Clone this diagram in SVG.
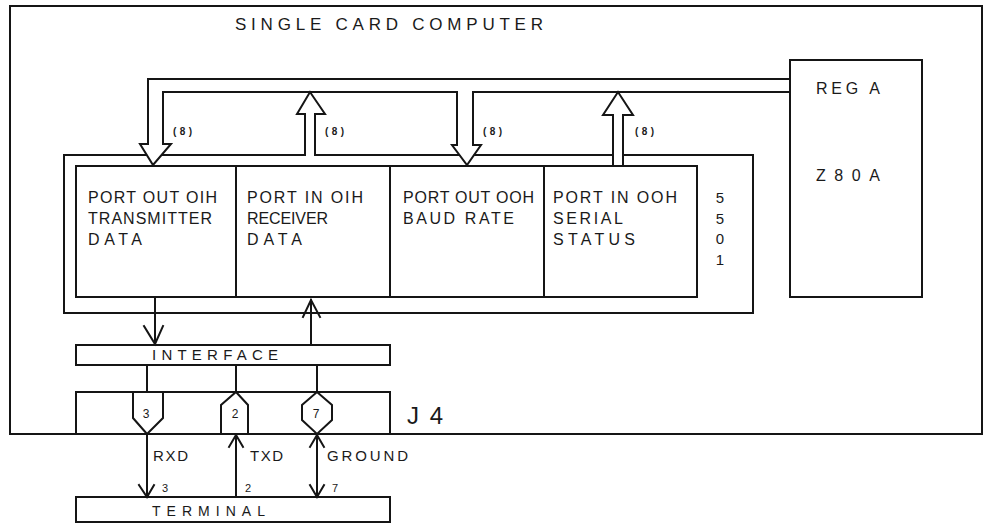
<svg xmlns="http://www.w3.org/2000/svg" width="988" height="523" viewBox="0 0 988 523">
<style>
  .ln { fill: none; stroke: #151515; stroke-width: 2; stroke-linejoin: miter; stroke-linecap: square; }
  .bx { fill: #ffffff; stroke: #151515; stroke-width: 2; }
  .wh { fill: #ffffff; stroke: none; }
  text { font-family: "Liberation Sans", Arial, sans-serif; fill: #1a1a1a; }
  .t16 { font-size: 16px; }
  .t15 { font-size: 15px; }
  .t14 { font-size: 14px; }
  .t12 { font-size: 12px; }
  .t11 { font-size: 11px; }
  .t8 { font-size: 10px; font-weight: bold; }
</style>
<rect x="0" y="0" width="988" height="523" fill="#ffffff"/>

<g id="computer">
  <path class="ln" d="M10 434 V6 H982 V434"/>
  <text x="235" y="30" font-size="17" textLength="308">SINGLE CARD COMPUTER</text>
</g>

<g id="z80a">
  <rect class="bx" x="790" y="60" width="132" height="237"/>
  <text class="t16" x="816" y="94" textLength="64">REG A</text>
  <text class="t16" x="816" y="181" textLength="64">Z80A</text>
</g>

<g id="uart5501">
  <rect class="ln" x="76" y="166" width="621" height="131"/>
  <path class="ln" d="M236 166 V297 M390 166 V297 M544 166 V297"/>
  <text class="t16" x="88" y="203" textLength="129">PORT OUT OIH</text>
  <text class="t16" x="88" y="224" textLength="124">TRANSMITTER</text>
  <text class="t16" x="88" y="245" textLength="54">DATA</text>
  <text class="t16" x="247" y="203" textLength="116">PORT IN OIH</text>
  <text class="t16" x="247" y="224" textLength="81">RECEIVER</text>
  <text class="t16" x="247" y="245" textLength="55">DATA</text>
  <text class="t16" x="403" y="203" textLength="131">PORT OUT OOH</text>
  <text class="t16" x="403" y="224" textLength="111">BAUD  RATE</text>
  <text class="t16" x="553" y="203" textLength="124">PORT IN OOH</text>
  <text class="t16" x="553" y="224" textLength="70">SERIAL</text>
  <text class="t16" x="553" y="245" textLength="82">STATUS</text>
  <text class="t15" x="720" y="203" text-anchor="middle">5</text>
  <text class="t15" x="720" y="224" text-anchor="middle">5</text>
  <text class="t15" x="720" y="244" text-anchor="middle">0</text>
  <text class="t15" x="720" y="265" text-anchor="middle">1</text>
</g>

<g id="interface">
  <rect class="bx" x="76" y="345" width="314" height="20"/>
  <text class="t15" x="152" y="360" textLength="126">INTERFACE</text>
</g>

<g id="j4">
  <path class="ln" d="M76 434 V392 H390 V434"/>
  <path class="ln" d="M133 392 V418 L147 434 L163 418 V392"/>
  <path class="ln" d="M221 434 V405 L236 392 L248 405 V434"/>
  <path class="ln" d="M317 392 L332 405 V420 L317 434 L302 420 V405 Z"/>
  <text class="t12" x="146" y="418" text-anchor="middle">3</text>
  <text class="t12" x="235" y="418" text-anchor="middle">2</text>
  <text class="t12" x="316" y="418" text-anchor="middle">7</text>
  <text x="407" y="424" font-size="24" textLength="36">J4</text>
</g>

<g id="terminal">
  <rect class="bx" x="76" y="497" width="314" height="25"/>
  <text class="t14" x="152" y="516" textLength="113">TERMINAL</text>
</g>

<g id="connectors">
  <!-- board edge line along bottom of J4 -->
  <path class="ln" d="M10 434 H982"/>
  <!-- 5501 bus channel with up arrow to data bus -->
  <path class="ln" d="M623 155 H753 V313 H64 V155 H305 V114 H297 L310 92 L325 114 H315 V155 H613"/>
  <path class="ln" d="M613 166 V115 H603 L618 92 L633 115 H623 V166"/>
  <!-- data bus from REG A with down arrows -->
  <polygon class="wh" points="141,145 170,145 153,164"/>
  <polygon class="wh" points="453,146 480,146 467,164"/>
  <path class="ln" d="M790 79 H148 V144 H140 L153 165 L171 144 H163 V92 H457 V145 H452 L467 165 L481 145 H473 V92 H790"/>
  <text class="t8" x="173" y="135" textLength="19">(8)</text>
  <text class="t8" x="325" y="135" textLength="19">(8)</text>
  <text class="t8" x="483" y="135" textLength="19">(8)</text>
  <text class="t8" x="635" y="135" textLength="19">(8)</text>
  <!-- 5501 to interface -->
  <path class="ln" d="M155 297 V344 M144 326 L155 344 L163 326"/>
  <path class="ln" d="M311 345 V300 M303 317 L311 300 L320 317"/>
  <!-- interface to J4 -->
  <path class="ln" d="M147 365 V392 M236 365 V392 M317 365 V392"/>
  <!-- J4 to terminal -->
  <path class="ln" d="M147 434 V497 M139 485 L147 497 L154 485"/>
  <path class="ln" d="M236 497 V435 M229 447 L236 435 L243 447"/>
  <path class="ln" d="M317 434 V497 M310 447 L317 435 L324 447 M310 485 L317 497 L324 485"/>
  <text class="t15" x="153" y="461" textLength="35">RXD</text>
  <text class="t15" x="250" y="461" textLength="33">TXD</text>
  <text class="t15" x="327" y="461" textLength="81">GROUND</text>
  <text class="t11" x="162" y="492">3</text>
  <text class="t11" x="245" y="492">2</text>
  <text class="t11" x="332" y="492">7</text>
</g>
</svg>
